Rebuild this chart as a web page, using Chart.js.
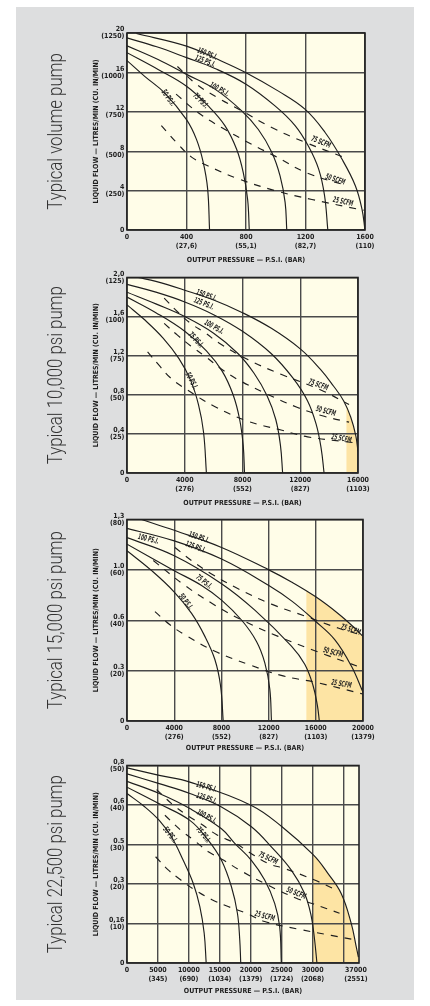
<!DOCTYPE html>
<html><head><meta charset="utf-8">
<script src="https://cdn.jsdelivr.net/npm/chart.js@4.4.1/dist/chart.umd.min.js"></script>
<style>
html,body{margin:0;padding:0;background:#fff;}
body{width:430px;height:1006px;position:relative;overflow:hidden;}
#panel{position:absolute;left:16px;top:7px;width:398px;height:993px;background:#dddedf;}
canvas{position:absolute;left:0;}
</style></head><body>
<div id="panel"></div>
<canvas id="c1" width="430" height="268" style="top:0px"></canvas>
<canvas id="c2" width="430" height="242" style="top:268px"></canvas>
<canvas id="c3" width="430" height="246" style="top:510px"></canvas>
<canvas id="c4" width="430" height="250" style="top:756px"></canvas>
<script>
// ---------- Typical volume pump (x: psi, y: litres/min) ----------
const volX = [0, 400, 800, 1200, 1600];
const volXTop = ['0', '400', '800', '1200', '1600'];
const volXBar = ['', '(27,6)', '(55,1)', '(82,7)', '(110)'];
const volY = [0, 4, 8, 12, 16, 20];
const volYTop = ['0', '4', '8', '12', '16', '20'];
const volYCu = ['', '(250)', '(500)', '(750)', '(1000)', '(1250)'];
const vol150 = [[63,19.95],[400,18.67],[613,17.3],[800,15.97],[1018,14.1],[1198,12.25],[1332,9.9],[1445,7.2],[1535,4.5],[1580,2.1],[1600,0]];
const vol125 = [[0,19.5],[200,18.6],[400,17.5],[591,16.4],[800,14.8],[995,12.6],[1130,10.6],[1220,8.5],[1288,6.2],[1328,3.5],[1350,0]];
const vol100 = [[0,18.7],[209,17.3],[400,15.8],[591,14.3],[771,12.1],[883,10.2],[973,7.9],[1029,5.5],[1063,2.8],[1074,0]];
const vol75  = [[0,18.0],[209,16.3],[400,14.6],[546,12.6],[658,10.6],[737,8.2],[782,5.8],[811,3.1],[822,0]];
const vol50  = [[0,17.2],[119,15.6],[254,13.9],[400,11.2],[467,9.2],[512,6.9],[542,4.2],[555,0]];
const vol75scfm = [[339,16.6],[467,14.8],[613,13.4],[771,12.1],[973,10.4],[1198,8.9],[1456,7.4]];
const vol50scfm = [[330,13.8],[479,11.9],[636,10.4],[838,8.7],[995,7.5],[1209,5.8],[1479,4.5]];
const vol25scfm = [[231,10.6],[344,8.7],[434,7.4],[546,6.5],[748,5.2],[995,4.0],[1243,3.1],[1591,2.0]];

// ---------- Typical 10,000 psi pump (x: psi, y: litres/min) ----------
const p10X = [0, 4000, 8000, 12000, 16000];
const p10XTop = ['0', '4000', '8000', '12000', '16000'];
const p10XBar = ['', '(276)', '(552)', '(827)', '(1103)'];
const p10Y = [0, 0.4, 0.8, 1.2, 1.6, 2.0];
const p10YTop = ['0', '0,4', '0,8', '1,2', '1,6', '2,0'];
const p10YCu = ['', '(25)', '(50)', '(75)', '(100)', '(125)'];
const p10_150 = [[780,2.0],[2000,1.96],[4000,1.87],[6000,1.77],[8000,1.64],[10000,1.48],[12000,1.27],[13400,1.06],[14300,0.89],[15000,0.74],[15500,0.57],[15850,0.38],[16000,0.22]];
const p10_125 = [[0,1.93],[2000,1.85],[4000,1.75],[6000,1.62],[8000,1.45],[10000,1.22],[11500,0.97],[12500,0.74],[13100,0.50],[13450,0.25],[13650,0]];
const p10_100 = [[0,1.85],[2000,1.73],[4000,1.60],[6000,1.43],[7700,1.22],[8800,1.02],[9700,0.79],[10300,0.55],[10630,0.28],[10780,0]];
const p10_75  = [[0,1.80],[2000,1.64],[4000,1.45],[5500,1.25],[6600,1.04],[7350,0.80],[7800,0.55],[8050,0.28],[8140,0]];
const p10_50  = [[0,1.72],[1200,1.57],[2500,1.38],[3600,1.17],[4400,0.95],[4950,0.70],[5300,0.42],[5500,0]];
const p10_75scfm = [[2575,1.79],[3494,1.65],[4414,1.53],[5449,1.43],[6368,1.33],[8368,1.16],[10667,1.01],[13426,0.85],[15380,0.70]];
const p10_50scfm = [[2575,1.53],[3494,1.41],[4414,1.30],[5449,1.19],[6483,1.07],[7633,0.96],[9518,0.82],[11817,0.67],[13656,0.58],[15380,0.52]];
const p10_25scfm = [[1425,1.24],[2230,1.10],[3035,0.97],[4069,0.86],[6069,0.68],[8368,0.53],[10667,0.44],[12506,0.37],[15725,0.31]];

// ---------- Typical 15,000 psi pump (x: psi, y: cu. in/min) ----------
const p15X = [0, 4000, 8000, 12000, 16000, 20000];
const p15XTop = ['0', '4000', '8000', '12000', '16000', '20000'];
const p15XBar = ['', '(276)', '(552)', '(827)', '(1103)', '(1379)'];
const p15Y = [0, 20, 40, 60, 80];
const p15YTop = ['0', '0.3', '0.6', '1.0', '1,3'];
const p15YCu = ['', '(20)', '(40)', '(60)', '(80)'];
const p15_150 = [[1241,80],[4006,75.7],[8012,68.9],[12017,60.0],[13936,55.2],[15995,49.3],[17885,42.7],[19296,36.9],[20000,33.6]];
const p15_125 = [[0,76.5],[4006,71.5],[8012,64.3],[12017,53.8],[14000,47.5],[15995,39.5],[17603,32.3],[19014,21.8],[20000,11.4]];
const p15_100 = [[0,72.8],[4006,65.6],[8012,54.5],[10833,44.0],[13936,29.7],[15064,22.5],[15770,14.0],[16136,6.1],[16300,0]];
const p15_75  = [[0,70.2],[4006,59.7],[6319,53.8],[8012,48.0],[9704,40.1],[10974,31.6],[11679,23.1],[12102,12.7],[12243,0]];
const p15_50  = [[0,67.6],[2088,59.7],[4006,51.2],[5473,42.7],[6601,33.6],[7447,24.4],[7927,14.0],[8153,0]];
const p15_75scfm = [[4062,68.9],[5473,63.7],[7165,58.4],[9422,52.5],[12243,46.4],[15064,41.7],[17885,36.9],[19600,34.5]];
const p15_50scfm = [[2229,63.7],[4909,53.8],[7447,46.0],[9986,39.5],[12807,33.6],[15628,28.4],[19860,21.2]];
const p15_25scfm = [[2370,43.4],[3639,38.2],[4909,34.2],[7447,27.7],[10268,22.5],[13230,17.9],[16051,15.3],[20000,10.7]];

// ---------- Typical 22,500 psi pump (x: psi, y: cu. in/min) ----------
const p22X = [0, 5000, 10000, 15000, 20000, 25000, 30000, 35000, 37000];
const p22XTop = ['0', '5000', '10000', '15000', '20000', '25000', '30000', '', '37000'];
const p22XBar = ['', '(345)', '(690)', '(1034)', '(1379)', '(1724)', '(2068)', '', '(2551)'];
const p22Y = [0, 10, 20, 30, 40, 50];
const p22YTop = ['0', '0,16', '0,3', '0.5', '0,6', '0,8'];
const p22YCu = ['', '(10)', '(20)', '(30)', '(40)', '(50)'];
const p22_150 = [[0,49.4],[5215,47.5],[10161,45.8],[20106,39.9],[25052,34.5],[30161,27.3],[32471,22.7],[34621,17.6],[36234,10.1],[37040,4.2],[37400,1.5]];
const p22_125 = [[0,47.9],[5215,45.4],[10161,42.9],[15268,39.5],[20106,34.5],[23332,29.4],[26558,23.5],[28708,17.6],[29783,11.8],[30321,5.9],[30700,0]];
const p22_100 = [[0,46.0],[5215,42.9],[10161,39.1],[15268,34.0],[17418,30.3],[20106,26.0],[22257,21.0],[23870,15.1],[24676,9.2],[24945,0]];
const p22_75  = [[0,44.5],[5215,40.3],[10161,36.1],[13117,31.1],[15268,26.0],[16881,19.3],[17848,12.6],[18225,5.9],[18386,0]];
const p22_50  = [[0,42.9],[2903,39.5],[5215,36.1],[7204,31.9],[9086,26.0],[10699,20.2],[11773,14.3],[12472,7.6],[12800,0]];
const p22_75scfm = [[4785,43.9],[7473,40.0],[9730,37.4],[11881,35.3],[14569,32.4],[17526,30.3],[19676,28.1],[22794,25.2],[25482,23.9],[30321,21.0],[34085,18.3]];
const p22_50scfm = [[6129,37.4],[8709,33.6],[10806,31.1],[13225,28.1],[15644,26.0],[18225,23.5],[22794,19.7],[27364,16.4],[30052,15.0],[34353,12.6]];
const p22_25scfm = [[4623,26.9],[6559,23.7],[8709,21.0],[10967,18.5],[13655,16.1],[16343,14.3],[19300,12.6],[22257,10.5],[27633,8.6],[33009,7.0],[36772,5.9]];

const psiNames = ['150 PS.I.', '125 PS.I.', '100 PS.I.', '75 PS.I.', '50 PS.I.'];
const scfmNames = ['75 SCFM', '50 SCFM', '25 SCFM'];

// curve label anchors (data coords + angle in degrees)
const volLabelAt = [[540,17.85,22],[525,17.1,22],[620,14.25,30],[495,13.1,45],[276,13.4,55],[1304,8.9,22],[1400,5.1,18],[1452,2.85,12]];
const p10LabelAt = [[5495,1.815,20],[5311,1.73,22],[6023,1.49,30],[4759,1.36,47],[4460,0.94,62],[13242,0.90,20],[13771,0.63,15],[14851,0.35,10]];
const p15LabelAt = [[6093,72.8,18],[5811,68.9,20],[1805,72.1,14],[6516,55.2,38],[4965,47.3,52],[18957,36.2,18],[17462,27.1,15],[18167,14.6,10]];
const p22LabelAt = [[12849,44.5,15],[12849,41.6,18],[12849,37.0,28],[12311,32.4,50],[6935,32.4,52],[22794,26.5,25],[27364,17.6,22],[22257,11.8,15]];

const INK = '#1e1e1e';
const GRID = '#4a4a4a';
const FONT = "'Liberation Sans Narrow','DejaVu Sans Condensed','Liberation Sans',Arial,sans-serif";

const toPts = a => a.map(p => ({x: p[0], y: p[1]}));

const decor = {
  id: 'decor',
  beforeDraw(chart, args, o) {
    const {ctx, chartArea: a} = chart;
    ctx.save();
    ctx.fillStyle = '#fffde8';
    ctx.fillRect(a.left, a.top, a.width, a.height);
    if (o.shadeFrom != null) {
      const xs = chart.scales.x;
      const meta = chart.getDatasetMeta(0);
      meta.dataset.updateControlPoints(a, 'x');
      const p = meta.data;
      const sx = xs.getPixelForValue(o.shadeFrom);
      ctx.beginPath();
      ctx.rect(sx, a.top, a.right - sx, a.height);
      ctx.clip();
      ctx.beginPath();
      ctx.moveTo(p[0].x, p[0].y);
      for (let i = 1; i < p.length; i++) {
        const q = p[i - 1], c = p[i];
        if (q.cp2x !== undefined && c.cp1x !== undefined) ctx.bezierCurveTo(q.cp2x, q.cp2y, c.cp1x, c.cp1y, c.x, c.y);
        else ctx.lineTo(c.x, c.y);
      }
      const last = p[p.length - 1];
      ctx.lineTo(a.right, last.y);
      ctx.lineTo(a.right, a.bottom);
      ctx.lineTo(p[0].x, a.bottom);
      ctx.closePath();
      ctx.fillStyle = '#fde4a4';
      ctx.fill();
    }
    ctx.restore();
  },
  afterDatasetsDraw(chart, args, o) {
    const {ctx, chartArea: a, scales: {x, y}} = chart;
    ctx.save();
    ctx.strokeStyle = '#222';
    ctx.lineWidth = 1.6;
    ctx.strokeRect(a.left, a.top, a.width, a.height);
    // curve labels
    ctx.font = 'italic bold 8px ' + FONT;
    const w = ctx.measureText('150 PS.I.').width;
    const k = Math.min(1, 21 / w);
    ctx.fillStyle = INK;
    ctx.textAlign = 'center';
    ctx.textBaseline = 'middle';
    o.labels.forEach(l => {
      ctx.save();
      ctx.translate(x.getPixelForValue(l.x), y.getPixelForValue(l.y));
      ctx.rotate(l.a * Math.PI / 180);
      ctx.scale(k, 1);
      ctx.fillText(l.t, 0, 0);
      ctx.restore();
    });
    ctx.restore();
  },
  afterDraw(chart, args, o) {
    const {ctx, chartArea: a} = chart;
    ctx.save();
    ctx.font = '300 21px Roboto, "Liberation Sans", sans-serif';
    const w = ctx.measureText('Typical 10,000 psi pump').width;
    const k = 178 / w;
    ctx.translate(57, (a.top + a.bottom) / 2);
    ctx.rotate(-Math.PI / 2);
    ctx.scale(k, 1);
    ctx.fillStyle = '#333';
    ctx.textAlign = 'center';
    ctx.textBaseline = 'middle';
    ctx.fillText(o.title, 0, 0);
    ctx.restore();
  }
};

function makeLabels(at) {
  const names = psiNames.concat(scfmNames);
  return at.map((p, i) => ({t: names[i], x: p[0], y: p[1], a: p[2]}));
}

function makeChart(s) {
  const canvasTop = s.top;
  const datasets = [];
  s.solid.forEach(arr => datasets.push({data: toPts(arr), borderColor: INK, borderWidth: 1.15, pointRadius: 0, tension: 0.4, fill: false}));
  s.dashed.forEach(arr => datasets.push({data: toPts(arr), borderColor: INK, borderWidth: 1.15, borderDash: [7, 7], pointRadius: 0, tension: 0.4, fill: false}));
  const tickFont = {family: FONT, size: 7, weight: 'bold'};
  new Chart(document.getElementById(s.id), {
    type: 'line',
    data: {datasets},
    plugins: [decor],
    options: {
      responsive: false, animation: false, events: [],
      layout: {padding: {left: 91.8, right: 430 - s.plotR, top: s.plotT - canvasTop, bottom: s.h - (s.plotB - canvasTop) - s.hx}},
      plugins: {
        legend: {display: false}, tooltip: {enabled: false}, title: {display: false},
        decor: {shadeFrom: s.shadeFrom, labels: makeLabels(s.labelAt), title: s.title}
      },
      scales: {
        x: {
          type: 'linear', min: s.xMin, max: s.xMax,
          afterBuildTicks: sc => { sc.ticks = s.xVals.map(v => ({value: v})); },
          afterFit: sc => { sc.height = s.hx; },
          border: {display: false},
          grid: {drawTicks: false, lineWidth: 1.4, color: c => (c.tick && c.tick.value === 37000) ? 'rgba(0,0,0,0)' : GRID},
          ticks: {
            padding: 2.3, color: INK, autoSkip: false, maxRotation: 0,
            font: Object.assign({lineHeight: 1.35}, tickFont),
            callback: v => { const i = s.xVals.indexOf(v); if (i < 0) return ''; return s.xBar[i] ? [s.xTop[i], s.xBar[i]] : s.xTop[i]; }
          },
          title: {display: true, text: 'OUTPUT PRESSURE — P.S.I. (BAR)', color: INK, font: {family: FONT, size: 7, weight: 'bold', lineHeight: 1.2}, padding: {top: 0, bottom: 0}}
        },
        y: {
          type: 'linear', min: s.yMin, max: s.yMax,
          afterBuildTicks: sc => { sc.ticks = s.yVals.map(v => ({value: v})); },
          afterFit: sc => { sc.width = 35.2; },
          border: {display: false},
          grid: {drawTicks: false, lineWidth: 1.4, color: GRID},
          ticks: {
            padding: 2.5, color: INK, autoSkip: false,
            font: Object.assign({lineHeight: 1.0}, tickFont),
            callback: v => { const i = s.yVals.indexOf(v); if (i < 0) return ''; return s.yCu[i] ? [s.yTop[i], s.yCu[i]] : s.yTop[i]; }
          },
          title: {display: true, text: 'LIQUID FLOW — LITRES/MIN (CU. IN/MIN)', color: INK, font: {family: FONT, size: 7, weight: 'bold', lineHeight: 1.2}, padding: {top: 0, bottom: 0}}
        }
      }
    }
  });
}

makeChart({id: 'c1', top: 0, h: 268, plotT: 33, plotB: 230, plotR: 365, hx: 34.2, title: 'Typical volume pump',
  xMin: 0, xMax: 1600, xVals: volX, xTop: volXTop, xBar: volXBar,
  yMin: 0, yMax: 20, yVals: volY, yTop: volYTop, yCu: volYCu,
  solid: [vol150, vol125, vol100, vol75, vol50], dashed: [vol75scfm, vol50scfm, vol25scfm],
  shadeFrom: null, labelAt: volLabelAt});

makeChart({id: 'c2', top: 268, h: 242, plotT: 277, plotB: 473, plotR: 358, hx: 33.9, title: 'Typical 10,000 psi pump',
  xMin: 0, xMax: 16000, xVals: p10X, xTop: p10XTop, xBar: p10XBar,
  yMin: 0, yMax: 2.0, yVals: p10Y, yTop: p10YTop, yCu: p10YCu,
  solid: [p10_150, p10_125, p10_100, p10_75, p10_50], dashed: [p10_75scfm, p10_50scfm, p10_25scfm],
  shadeFrom: 15200, labelAt: p10LabelAt});

makeChart({id: 'c3', top: 510, h: 246, plotT: 517, plotB: 721, plotR: 363, hx: 31.2, title: 'Typical 15,000 psi pump',
  xMin: 0, xMax: 20000, xVals: p15X, xTop: p15XTop, xBar: p15XBar,
  yMin: 0, yMax: 80, yVals: p15Y, yTop: p15YTop, yCu: p15YCu,
  solid: [p15_150, p15_125, p15_100, p15_75, p15_50], dashed: [p15_75scfm, p15_50scfm, p15_25scfm],
  shadeFrom: 15200, labelAt: p15LabelAt});

makeChart({id: 'c4', top: 756, h: 250, plotT: 765, plotB: 963, plotR: 359, hx: 32.6, title: 'Typical 22,500 psi pump',
  xMin: 0, xMax: 37500, xVals: p22X, xTop: p22XTop, xBar: p22XBar,
  yMin: 0, yMax: 50, yVals: p22Y, yTop: p22YTop, yCu: p22YCu,
  solid: [p22_150, p22_125, p22_100, p22_75, p22_50], dashed: [p22_75scfm, p22_50scfm, p22_25scfm],
  shadeFrom: 30000, labelAt: p22LabelAt});
</script>
</body></html>
